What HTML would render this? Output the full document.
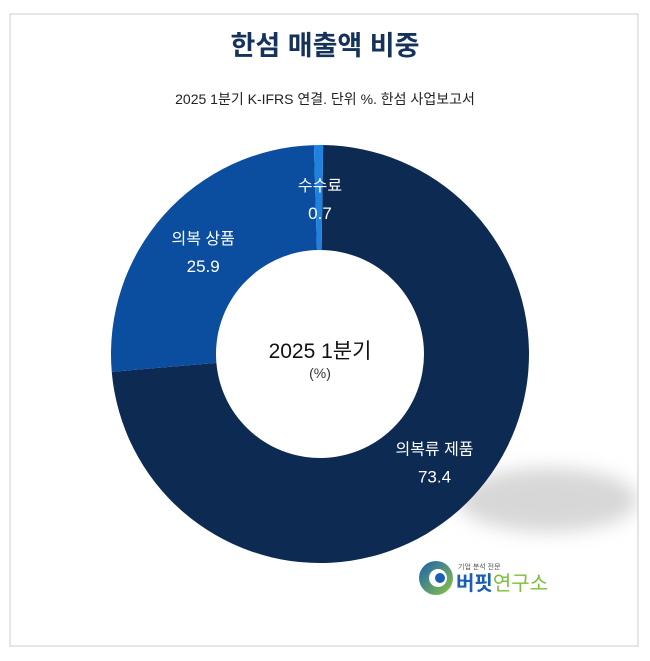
<!DOCTYPE html>
<html><head><meta charset="utf-8"><style>
body{margin:0;width:650px;height:656px;background:#fff;overflow:hidden;font-family:"Liberation Sans","Noto Sans CJK KR",sans-serif;}
</style></head><body>
<svg width="650" height="656">
<defs><filter id="bl" x="-50%" y="-50%" width="200%" height="200%"><feGaussianBlur stdDeviation="9"/></filter>
<clipPath id="cp"><rect x="10" y="14" width="628" height="632"/></clipPath>
<linearGradient id="lg" x1="0" y1="0" x2="1" y2="1"><stop offset="0" stop-color="#1a5fb4"/><stop offset="1" stop-color="#8cc63f"/></linearGradient></defs>
<rect x="10" y="14" width="628" height="632" fill="#fff" stroke="#ddd" stroke-width="1.5"/>
<text x="325" y="55" text-anchor="middle" font-size="27" font-weight="bold" fill="#15325a">한섬 매출액 비중</text>
<text x="325" y="104" text-anchor="middle" font-size="14" fill="#222">2025 1분기 K-IFRS 연결. 단위 %. 한섬 사업보고서</text>
<ellipse cx="548" cy="500" rx="90" ry="32" fill="#bdbdbd" opacity="0.6" filter="url(#bl)" clip-path="url(#cp)"/>
<g id="slices"></g>
<text x="320" y="358" text-anchor="middle" font-size="21" fill="#111">2025 1분기</text>
<text x="320" y="378" text-anchor="middle" font-size="14" fill="#333">(%)</text>
<g>
<circle cx="436" cy="578" r="17" fill="url(#lg)"/><circle cx="438" cy="578" r="9" fill="#fff"/><circle cx="440" cy="578" r="5" fill="#1a5fb4"/>
<text x="458" y="569" font-size="7" fill="#555">기업 분석 전문</text>
<text x="456" y="590" font-size="20" font-weight="bold" fill="#1a5fb4">버핏<tspan fill="#7cbf3a" font-weight="normal">연구소</tspan></text>
</g>
</svg>
<script>
const categories=["의복류 제품","의복 상품","수수료"];
const values=[73.4,25.9,0.7];
const colors=["#0c2a52","#0b4d9e","#1f82e0"];
const cx=320,cy=354,R=209,r=104;
const g=document.getElementById('slices');
const total=values.reduce((a,b)=>a+b,0);
const rot=0.015;
function pt(a,rad){return [cx+rad*Math.sin(a+rot),cy-rad*Math.cos(a+rot)];}
let a0=0;
values.forEach((v,i)=>{
  const a1=a0+v/total*2*Math.PI;
  const lg=(a1-a0)>Math.PI?1:0;
  const [x1,y1]=pt(a0,R),[x2,y2]=pt(a1,R),[x3,y3]=pt(a1,r),[x4,y4]=pt(a0,r);
  const p=document.createElementNS('http://www.w3.org/2000/svg','path');
  p.setAttribute('d',`M${x1},${y1}A${R},${R} 0 ${lg} 1 ${x2},${y2}L${x3},${y3}A${r},${r} 0 ${lg} 0 ${x4},${y4}Z`);
  p.setAttribute('fill',colors[i]);
  
  
  g.appendChild(p);
  const mid=(a0+a1)/2;
  let [lx,ly]=pt(mid,(R+r)/2);
  if(i===2){lx=320;ly=197;}
  const t=document.createElementNS('http://www.w3.org/2000/svg','text');
  t.setAttribute('x',lx);t.setAttribute('y',ly-6);t.setAttribute('text-anchor','middle');
  t.setAttribute('font-size','16');t.setAttribute('fill','#fff');
  t.textContent=categories[i];
  
  
  g.appendChild(t);
  const t2=document.createElementNS('http://www.w3.org/2000/svg','text');
  t2.setAttribute('x',lx);t2.setAttribute('y',ly+22);t2.setAttribute('text-anchor','middle');
  t2.setAttribute('font-size','17');t2.setAttribute('fill','#fff');
  t2.textContent=values[i];
  
  
  g.appendChild(t2);
  a0=a1;
});
</script>
</body></html>
